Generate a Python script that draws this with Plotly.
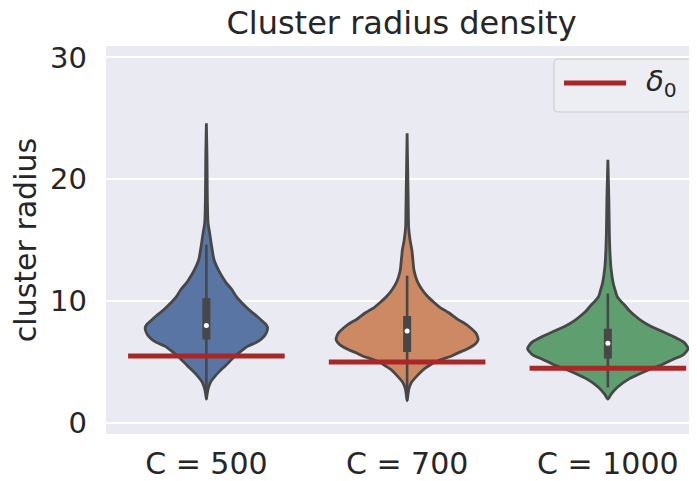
import numpy as np
import plotly.graph_objects as go

# ---------------- data ----------------
categories = ["C = 500", "C = 700", "C = 1000"]
delta0 = [5.5, 5.0, 4.5]

# violin outlines: radius values and (relative) density at each value
vals_500 = [1.96, 2.4, 2.78, 3.32, 3.87, 4.3, 4.69, 5.1, 5.5, 5.9, 6.32, 6.6, 6.87, 7.2, 7.5,
            7.82, 8.1, 8.4, 8.78, 9.3, 9.87, 10.4, 10.96, 11.5, 12.0, 12.5, 13.4, 14.5, 15.6,
            16.4, 18.3, 20.0, 22.0, 24.6]
dens_500 = [0, 0.8, 1.7, 4, 9, 14, 19, 24, 29, 35, 42, 50, 55, 59, 61,
            61.7, 60, 56, 50.7, 43, 35.7, 30, 25.7, 20, 16, 12.5, 7.7, 5.3, 3.3,
            1.7, 1.0, 0.8, 0.6, 0]

vals_700 = [1.83, 2.3, 2.78, 3.32, 3.87, 4.41, 4.7, 4.96, 5.23, 5.5, 5.78, 6.05, 6.32, 6.6,
            6.87, 7.2, 7.41, 7.96, 8.23, 8.5, 9.05, 9.5, 9.87, 10.4, 10.96, 11.5, 12.04, 12.6,
            13.4, 14.2, 15.0, 16.1, 17.5, 19.7, 23.77]
dens_700 = [0, 0.8, 1.7, 4.3, 10, 16.7, 22, 27, 35, 45, 52, 60, 66, 70,
            71.7, 70.5, 69, 61.7, 57, 51, 42, 33, 27.5, 20.5, 15, 11, 8.5, 6.8,
            5.8, 4.8, 3, 1.5, 1.2, 0.8, 0]

vals_1000 = [1.96, 2.37, 2.92, 3.6, 4.0, 4.41, 4.8, 5.23, 5.6, 6.1, 6.6, 7.14, 7.55, 7.96,
             8.38, 8.78, 9.2, 9.6, 10.0, 10.4, 11.0, 11.5, 12.6, 13.7, 15.6, 18.3, 21.6]
dens_1000 = [0, 3.3, 9.3, 21, 31, 42.7, 55, 66, 76, 81, 77, 65, 54, 42.7,
             34, 27.7, 22, 17.7, 13, 9.3, 7, 5.3, 3.3, 2.3, 1.5, 1.0, 0]

# inner box statistics
q1 = [6.85, 5.83, 5.29]
median = [8.01, 7.55, 6.54]
q3 = [10.25, 8.78, 7.74]
whisker_lo = [1.96, 1.83, 2.92]
whisker_hi = [14.64, 12.1, 10.63]

# ---------------- styling ----------------
fills = ["#5875A4", "#CC8963", "#5F9E6E"]
outline = "#474747"
red = "#A82828"
font = "DejaVu Sans"
txt = "#262626"
half_width = 0.4

fig = go.Figure()

all_vals = [vals_500, vals_700, vals_1000]
all_dens = [dens_500, dens_700, dens_1000]
max_d = max(max(d) for d in all_dens)

for i, (vals, dens) in enumerate(zip(all_vals, all_dens)):
    v = np.array(vals, dtype=float)
    w = np.array(dens, dtype=float) / max_d * half_width
    x = np.concatenate([i + w, (i - w)[::-1]])
    y = np.concatenate([v, v[::-1]])
    fig.add_trace(go.Scatter(
        x=x, y=y, mode="lines", fill="toself", fillcolor=fills[i],
        line=dict(color=outline, width=2.8, shape="spline", smoothing=0.6),
        hoverinfo="skip", showlegend=False))

for i in range(len(categories)):
    fig.add_trace(go.Scatter(x=[i, i], y=[whisker_lo[i], whisker_hi[i]], mode="lines",
                             line=dict(color=outline, width=2.6),
                             hoverinfo="skip", showlegend=False))
    fig.add_trace(go.Scatter(x=[i, i], y=[q1[i], q3[i]], mode="lines",
                             line=dict(color=outline, width=8),
                             hoverinfo="skip", showlegend=False))
    fig.add_trace(go.Scatter(x=[i], y=[median[i]], mode="markers",
                             marker=dict(color="white", size=5, line=dict(width=0)),
                             hoverinfo="skip", showlegend=False))

for i, d in enumerate(delta0):
    fig.add_trace(go.Scatter(x=[i - 0.39, i + 0.39], y=[d, d], mode="lines",
                             line=dict(color=red, width=5),
                             name="δ0", showlegend=False, hoverinfo="skip"))

# ---------------- manual legend (matplotlib style) ----------------
x0, x1, y0, y1 = 0.758, 0.993, 0.830, 0.9665
rx, ry = 0.0068, 0.0103
path = (f"M {x0+rx},{y0} L {x1-rx},{y0} Q {x1},{y0} {x1},{y0+ry} "
        f"L {x1},{y1-ry} Q {x1},{y1} {x1-rx},{y1} L {x0+rx},{y1} "
        f"Q {x0},{y1} {x0},{y1-ry} L {x0},{y0+ry} Q {x0},{y0} {x0+rx},{y0} Z")
fig.add_shape(type="path", path=path, xref="paper", yref="paper",
              fillcolor="#EDEDF4", line=dict(color="#CCCCCC", width=1), layer="above")
fig.add_shape(type="line", x0=0.775, x1=0.880, y0=0.9048, y1=0.9048,
              xref="paper", yref="paper", line=dict(color=red, width=5), layer="above")
fig.add_annotation(x=0.940, y=0.9048, xref="paper", yref="paper",
                   text="<i>δ</i><sub>0</sub>", showarrow=False,
                   font=dict(family=font, size=29, color=txt),
                   xanchor="center", yanchor="middle")

# the page body adds an 8 px offset; size the figure to end at the window edge
W, H, OFF = 697, 481, 8
fig.update_layout(
    width=W - OFF, height=H - OFF,
    margin=dict(l=106 - OFF, r=0, t=46 - OFF, b=46.5, pad=0),
    paper_bgcolor="white", plot_bgcolor="#EAEAF2",
    font=dict(family=font, color=txt),
    title=dict(text="Cluster radius density", x=0.5, xref="paper", xanchor="center",
               y=1 - (23 - OFF) / (H - OFF), yref="container", yanchor="middle",
               font=dict(family=font, size=32, color=txt)),
    showlegend=False,
)
fig.update_xaxes(range=[-0.5, 2.444], tickvals=[0, 1, 2], ticktext=categories,
                 showgrid=False, zeroline=False, showline=False, ticks="",
                 tickfont=dict(family=font, size=30, color=txt), ticklabelstandoff=9,
                 automargin=False)
fig.update_yaxes(range=[-0.90, 30.94], tickvals=[0, 10, 20, 30],
                 showgrid=True, gridcolor="white", gridwidth=1.6,
                 zeroline=False, showline=False, ticks="",
                 tickfont=dict(family=font, size=29, color=txt), ticklabelstandoff=18,
                 automargin=False,
                 title=dict(text="cluster radius", font=dict(family=font, size=30, color=txt),
                            standoff=8))

fig.write_html("out.html")
